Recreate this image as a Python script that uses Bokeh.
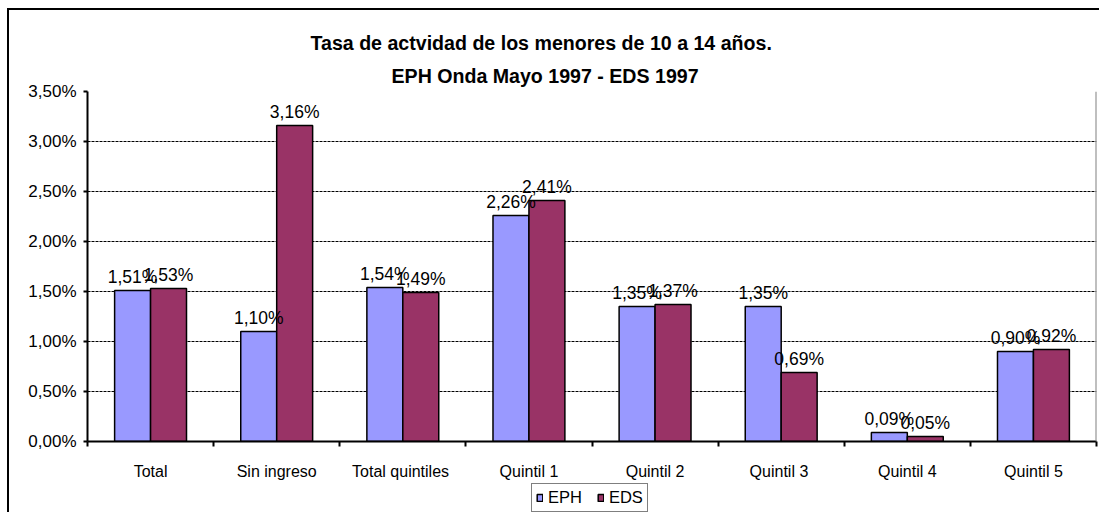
from bokeh.plotting import figure
from bokeh.layouts import column
from bokeh.models import (ColumnDataSource, Range1d, FixedTicker, CustomJSTickFormatter,
                          Legend, LegendItem, Title, Span)
from bokeh.core.properties import value
from bokeh.embed import file_html
from bokeh.resources import INLINE

# ---- data ----
categories = ["Total", "Sin ingreso", "Total  quintiles", "Quintil 1", "Quintil 2",
              "Quintil  3", "Quintil 4", "Quintil 5"]
eph = [1.51, 1.10, 1.54, 2.26, 1.35, 1.35, 0.09, 0.90]
eds = [1.53, 3.16, 1.49, 2.41, 1.37, 0.69, 0.05, 0.92]
series_names = ["EPH", "EDS"]
y_ticks = [0.0, 0.5, 1.0, 1.5, 2.0, 2.5, 3.0, 3.5]
title_lines = ["Tasa de actvidad de los menores de 10 a 14 años.", "EPH Onda Mayo 1997 - EDS 1997"]

# ---- style ----
FONT = "Liberation Sans"
C_EPH = "#9999FF"
C_EDS = "#993366"
BAR_W = 0.285
colors = [C_EPH, C_EDS]

n = len(categories)
idx = list(range(n))

def fmt(v):
    return f"{v:.2f}".replace(".", ",") + "%"

src_eph = ColumnDataSource(dict(x=[i - BAR_W / 2 for i in idx], top=eph, lab=[fmt(v) for v in eph]))
src_eds = ColumnDataSource(dict(x=[i + BAR_W / 2 for i in idx], top=eds, lab=[fmt(v) for v in eds]))
sources = [src_eph, src_eds]

p = figure(frame_width=1009, frame_height=350, output_backend="svg", toolbar_location=None,
           x_range=Range1d(-0.5, n - 0.5), y_range=Range1d(y_ticks[0], y_ticks[-1]),
           min_border_left=78, min_border_right=3, min_border_top=81, min_border_bottom=42)
p.outline_line_color = None
p.background_fill_color = "white"
p.border_fill_color = "white"

# titles (closest to frame first)
t2 = Title(text=title_lines[1], text_font=FONT, text_font_size="19.6px", text_font_style="bold",
           text_color="black", align="left", offset=304, standoff=9)
t1 = Title(text=title_lines[0], text_font=FONT, text_font_size="19.6px", text_font_style="bold",
           text_color="black", align="left", offset=223, standoff=9)
p.add_layout(t2, "above")
p.add_layout(t1, "above")

for s, col in zip(sources, colors):
    p.vbar(x="x", top="top", width=BAR_W, source=s, fill_color=col,
           line_color="black", line_width=1.5)

for s in sources:
    p.text(x="x", y="top", text="lab", source=s, text_font=value(FONT), text_font_size="17.5px",
           text_align="center", text_baseline="alphabetic", y_offset=-14, text_color="black")

# right border of plot area
p.add_layout(Span(location=p.x_range.end, dimension="height", line_color="#808080", line_width=2))

# y axis
p.yaxis.ticker = FixedTicker(ticks=y_ticks)
p.yaxis.formatter = CustomJSTickFormatter(code="return tick.toFixed(2).replace('.', ',') + '%';")
p.yaxis.major_label_text_font = FONT
p.yaxis.major_label_text_font_size = "17px"
p.yaxis.major_label_text_color = "black"
p.yaxis.major_tick_out = 4
p.yaxis.major_tick_in = 0
p.yaxis.minor_tick_line_color = None
p.yaxis.major_label_standoff = 7
p.yaxis.axis_line_width = 2
p.yaxis.major_tick_line_width = 2

# x axis: labels at centers, ticks at boundaries
boundaries = [i - 0.5 for i in range(n + 1)]
p.xaxis.ticker = FixedTicker(ticks=idx, minor_ticks=boundaries)
p.xaxis.formatter = CustomJSTickFormatter(args=dict(cats=categories),
                                          code="const i = Math.round(tick); return (i >= 0 && i < cats.length) ? cats[i] : '';")
p.xaxis.major_label_text_font = FONT
p.xaxis.major_label_text_font_size = "16px"
p.xaxis.major_label_text_color = "black"
p.xaxis.major_tick_line_color = None
p.xaxis.major_tick_out = 0
p.xaxis.major_tick_in = 0
p.xaxis.minor_tick_out = 5
p.xaxis.minor_tick_in = 0
p.xaxis.minor_tick_line_width = 2
p.xaxis.minor_tick_line_color = "black"
p.xaxis.major_label_standoff = 16
p.xaxis.axis_line_width = 2

p.xgrid.grid_line_color = None
p.ygrid.ticker = FixedTicker(ticks=y_ticks)
p.ygrid.grid_line_color = "black"
p.ygrid.grid_line_dash = "3 1"
p.ygrid.grid_line_width = 1

# ---- legend strip (separate small figure directly below the chart) ----
leg = figure(frame_width=1009, frame_height=29, output_backend="svg", toolbar_location=None,
             x_range=Range1d(-0.5, n - 0.5), y_range=Range1d(y_ticks[0], y_ticks[-1]),
             x_axis_location=None, y_axis_location=None,
             min_border_left=78, min_border_right=3, min_border_top=0, min_border_bottom=0)
leg.outline_line_color = None
leg.xgrid.grid_line_color = None
leg.ygrid.grid_line_color = None
leg.border_fill_color = "white"
items = []
for name, s, col in zip(series_names, sources, colors):
    r = leg.vbar(x="x", top="top", width=BAR_W, source=s, fill_color=col,
                 line_color="black", line_width=1.5, visible=False)
    items.append(LegendItem(label=name, renderers=[r]))

legend = Legend(items=items, orientation="horizontal", location=(444, 0),
                label_text_font=FONT, label_text_font_size="16.5px", label_text_baseline="top",
                label_text_color="black", inactive_fill_alpha=0,
                glyph_width=7, glyph_height=9, label_height=15, label_standoff=5, spacing=15,
                padding=4, margin=0, border_line_color="black", border_line_width=1.5,
                background_fill_alpha=1)
leg.add_layout(legend, "center")

layout = column(p, leg, spacing=0)
layout.styles = {"margin-left": "7px", "margin-top": "8px",
                 "border-top": "2px solid black", "border-left": "2px solid black"}

open("out.html", "w").write(file_html(layout, INLINE))
